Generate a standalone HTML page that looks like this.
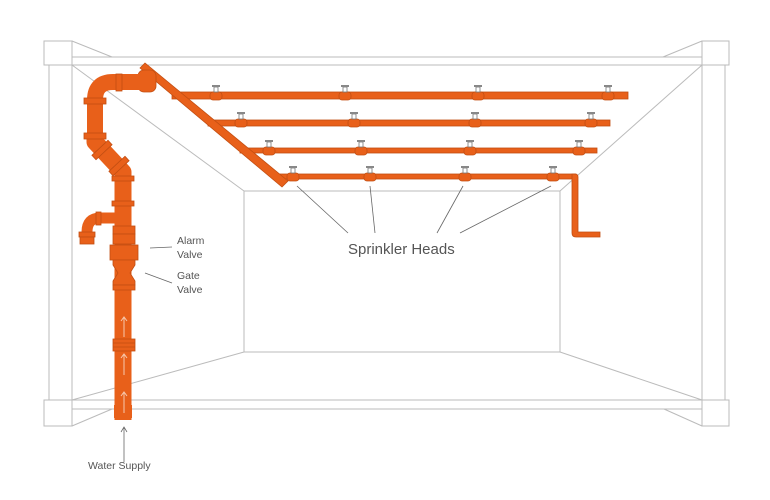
<!DOCTYPE html>
<html><head><meta charset="utf-8"><style>
html,body{margin:0;padding:0;background:#fff;width:770px;height:500px;overflow:hidden}
svg{display:block}
text{font-family:"Liberation Sans",sans-serif;fill:#555}
</style></head><body>
<svg width="770" height="500" viewBox="0 0 770 500" xmlns="http://www.w3.org/2000/svg">
<defs>
<g id="head">
<rect x="-6" y="-4" width="12" height="8" rx="3" fill="#E8601A" stroke="#C24E12" stroke-width="0.8"/>
<rect x="-2" y="-9" width="4" height="5" fill="#fff" stroke="#777" stroke-width="0.8"/>
<rect x="-4" y="-11" width="8" height="2" fill="#888"/>
</g>
</defs>
<g fill="none" stroke="#bbb" stroke-width="1">
<line x1="72" y1="57" x2="702" y2="57"/>
<line x1="72" y1="65" x2="702" y2="65"/>
<rect x="44" y="41" width="28" height="24" fill="#fff"/>
<rect x="702" y="41" width="27" height="24" fill="#fff"/>
<line x1="72" y1="41" x2="112" y2="57"/>
<line x1="702" y1="41" x2="663" y2="57"/>
<line x1="49" y1="65" x2="49" y2="400"/>
<line x1="72" y1="65" x2="72" y2="400"/>
<line x1="702" y1="65" x2="702" y2="400"/>
<line x1="725" y1="65" x2="725" y2="400"/>
<line x1="72" y1="400" x2="702" y2="400"/>
<line x1="72" y1="409" x2="702" y2="409"/>
<rect x="44" y="400" width="28" height="26" fill="#fff"/>
<rect x="702" y="400" width="27" height="26" fill="#fff"/>
<line x1="72" y1="426" x2="112" y2="409"/>
<line x1="702" y1="426" x2="664" y2="409"/>
<rect x="244" y="191" width="316" height="161"/>
<line x1="72" y1="65" x2="244" y2="191"/>
<line x1="702" y1="65" x2="560" y2="191"/>
<line x1="560" y1="352" x2="702" y2="400"/>
<line x1="244" y1="352" x2="72" y2="400"/>
</g>
<g stroke="#C24E12" stroke-width="0.8" fill="#E8601A">
<rect x="172" y="92" width="456" height="7"/>
<rect x="208" y="120" width="402" height="6"/>
<rect x="240" y="148" width="357" height="5"/>
<rect x="274" y="174" width="302" height="5"/>
<path d="M572,174 h3 q3,0 3,3 V232 h22 v5 h-24 q-4,0 -4,-4 Z"/>
<path d="M140,68 L145,63 L288,181 L282,187 Z"/>
<rect x="138" y="70" width="18" height="22" rx="6"/>
</g>
<g fill="none" stroke="#E8601A" stroke-linejoin="round">
<path d="M95,137 L95,100 Q95,82 113,82 L142,82" stroke-width="16"/>
<path d="M95,136 L95,142 L123,172 L123,420" stroke-width="17"/>
<path d="M115,218 L100,218 Q87,218 87,232 L87,240" stroke-width="11"/>
</g>
<g fill="#E8601A" stroke="#C24E12" stroke-width="0.8">
<rect x="116" y="74" width="6" height="17"/>
<rect x="84" y="98" width="22" height="6"/>
<rect x="84" y="133" width="22" height="6"/>
<rect x="91" y="147" width="22" height="6" transform="rotate(-43 102 150)"/>
<rect x="108" y="163" width="22" height="6" transform="rotate(-43 119 166)"/>
<rect x="112" y="176" width="22" height="5"/>
<rect x="112" y="201" width="22" height="5"/>
<rect x="96" y="212" width="5" height="13"/>
<rect x="79" y="232" width="16" height="5"/>
<rect x="80" y="237" width="14" height="7"/>
<rect x="113" y="226" width="22" height="8"/>
<rect x="113" y="234" width="22" height="10"/>
<rect x="110" y="245" width="28" height="15"/>
<path d="M113,260 h22 v5 l-5,8 l5,8 v4 h-22 v-4 l5,-8 l-5,-8 Z"/>
<rect x="113" y="285" width="22" height="5"/>
<rect x="113" y="339" width="22" height="12"/>
<rect x="114" y="405" width="18" height="13" stroke="none"/>
</g>
<g stroke="#C24E12" stroke-width="0.8"><line x1="113" y1="343" x2="135" y2="343"/><line x1="113" y1="347" x2="135" y2="347"/></g>
<g stroke="#f6c9ae" stroke-width="1" fill="none">
<path d="M124,337 V318 M121,321 L124,317 L127,321"/>
<path d="M124,375 V355 M121,358 L124,354 L127,358"/>
<path d="M124,413 V393 M121,396 L124,392 L127,396"/>
</g>
<use href="#head" x="216" y="96"/><use href="#head" x="345" y="96"/><use href="#head" x="478" y="96"/><use href="#head" x="608" y="96"/>
<use href="#head" x="241" y="123"/><use href="#head" x="354" y="123"/><use href="#head" x="475" y="123"/><use href="#head" x="591" y="123"/>
<use href="#head" x="269" y="151"/><use href="#head" x="361" y="151"/><use href="#head" x="470" y="151"/><use href="#head" x="579" y="151"/>
<use href="#head" x="293" y="177"/><use href="#head" x="370" y="177"/><use href="#head" x="465" y="177"/><use href="#head" x="553" y="177"/>
<g stroke="#666" stroke-width="0.8" fill="none">
<line x1="348" y1="233" x2="297" y2="186"/>
<line x1="375" y1="233" x2="370" y2="186"/>
<line x1="437" y1="233" x2="463" y2="186"/>
<line x1="460" y1="233" x2="551" y2="186"/>
<line x1="150" y1="248" x2="172" y2="247"/>
<line x1="145" y1="273" x2="172" y2="283"/>
<path d="M124,462 V428 M121,432 L124,427 L127,432"/>
</g>
<text x="348" y="254" font-size="15">Sprinkler Heads</text>
<text x="177" y="244" font-size="10.5">Alarm</text>
<text x="177" y="258" font-size="10.5">Valve</text>
<text x="177" y="279" font-size="10.5">Gate</text>
<text x="177" y="293" font-size="10.5">Valve</text>
<text x="88" y="469" font-size="10.5">Water Supply</text>
</svg>
</body></html>
